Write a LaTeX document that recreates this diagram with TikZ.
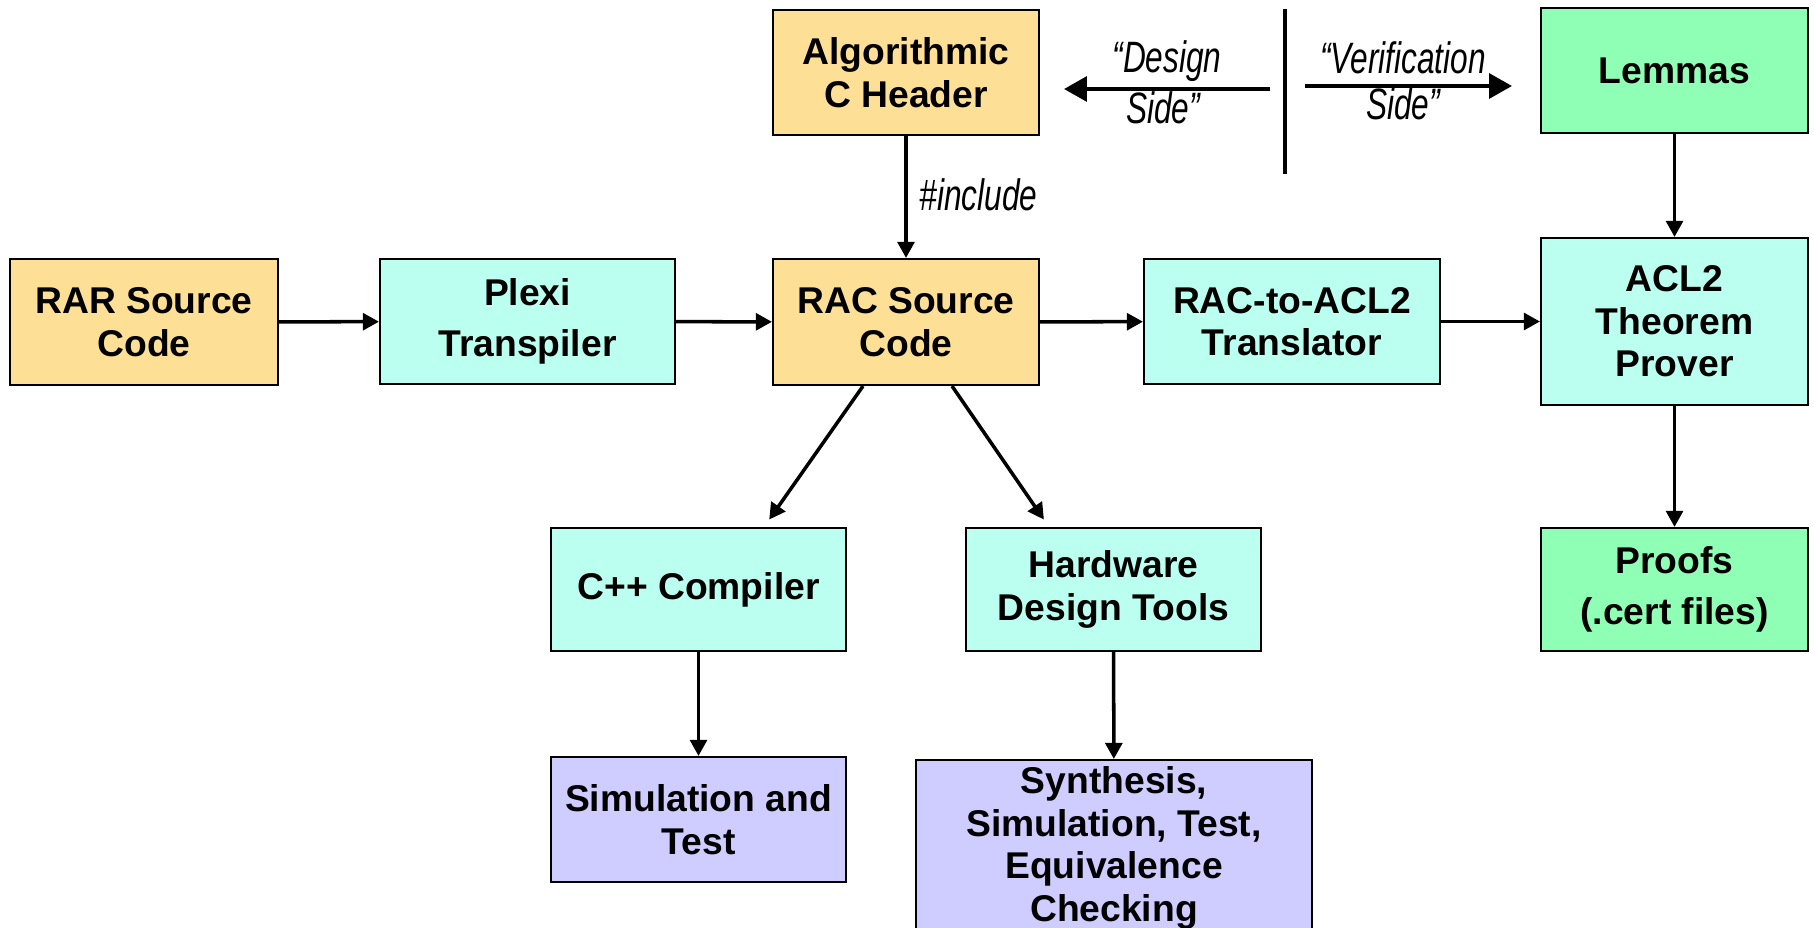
\documentclass[tikz,border=0pt]{standalone}
\usepackage{fontspec}
\setmainfont{Liberation Sans}
\newfontfamily\sidefont[FakeStretch=0.72]{Liberation Sans}
\usetikzlibrary{arrows.meta}

\definecolor{srcorange}{RGB}{253,223,150}
\definecolor{toolcyan}{RGB}{186,255,240}
\definecolor{proofgreen}{RGB}{144,255,182}
\definecolor{testpurple}{RGB}{207,205,255}

\tikzset{
    block/.style={draw, line width=0.6pt, align=center, inner sep=0pt,
        font=\fontsize{10.6}{12.1}\selectfont\bfseries},
    flow/.style={line width=1pt, -{Triangle[length=4.6pt,width=4.8pt]}},
    sideflow/.style={line width=1.15pt, -{Triangle[length=6.5pt,width=7pt]}},
    side/.style={inner sep=0pt, font=\sidefont\itshape\fontsize{12.5}{14}\selectfont}
}

\begin{document}
\begin{tikzpicture}
        \useasboundingbox (0,0) rectangle (18.14,-9.27);

        \node (rar) [block, fill=srcorange, minimum width=2.68cm, minimum height=1.26cm] at (1.44,-3.22) {RAR Source\\Code};
        \node (plexi) [block, fill=toolcyan, minimum width=2.95cm, minimum height=1.25cm] at (5.275,-3.215) {Plexi\\[0.08cm]Transpiler};
        \node (rac) [block, fill=srcorange, minimum width=2.66cm, minimum height=1.26cm] at (9.06,-3.22) {RAC Source\\Code};
        \node (header) [block, fill=srcorange, minimum width=2.66cm, minimum height=1.25cm] at (9.06,-0.725) {Algorithmic\\C Header};
        \node (trans) [block, fill=toolcyan, minimum width=2.96cm, minimum height=1.25cm] at (12.92,-3.215) {RAC-to-ACL2\\Translator};
        \node (acl) [block, fill=toolcyan, minimum width=2.67cm, minimum height=1.67cm] at (16.745,-3.215) {ACL2\\Theorem\\Prover};
        \node (lemmas) [block, fill=proofgreen, minimum width=2.67cm, minimum height=1.25cm] at (16.745,-0.705) {Lemmas};
        \node (proofs) [block, fill=proofgreen, minimum width=2.67cm, minimum height=1.23cm] at (16.745,-5.895) {Proofs\\[0.08cm](.cert files)};
        \node (cpp) [block, fill=toolcyan, minimum width=2.95cm, minimum height=1.23cm] at (6.985,-5.895) {C++ Compiler};
        \node (hw) [block, fill=toolcyan, minimum width=2.95cm, minimum height=1.23cm] at (11.135,-5.895) {Hardware\\Design Tools};
        \node (simtest) [block, fill=testpurple, minimum width=2.95cm, minimum height=1.25cm] at (6.985,-8.195) {Simulation and\\Test};
        \node (synth) [block, fill=testpurple, minimum width=3.96cm, minimum height=1.80cm, anchor=north] at (11.14,-7.59) {Synthesis,\\Simulation, Test,\\Equivalence\\Checking\rule[-0.12cm]{0pt}{0.1pt}};

        \draw[flow] (rar) -- (plexi);
        \draw[flow] (plexi) -- (rac);
        \draw[flow] (rac) -- (trans);
        \draw[flow] (trans) -- (acl);
        \draw[flow] (header) -- node [side, right, xshift=0.12cm, yshift=0.02cm] {\#include} (rac);
        \draw[flow] (lemmas) -- (acl);
        \draw[flow] (acl) -- (proofs);
        \draw[flow, shorten >=0.09cm] ([xshift=-0.43cm]rac.south) -- ([xshift=0.655cm]cpp.north);
        \draw[flow, shorten >=0.09cm] ([xshift=0.46cm]rac.south) -- ([xshift=-0.645cm]hw.north);
        \draw[flow] (cpp) -- (simtest);
        \draw[flow] (hw) -- (synth);

        \coordinate (divtop) at (12.85,-0.09);
        \coordinate (divbot) at (12.85,-1.74);
        \draw[line width=1.4pt] (divtop) -- (divbot);

        \coordinate (dstart) at (12.70,-0.89);
        \coordinate (dend) at (10.64,-0.89);
        \draw[sideflow] (dstart) -- (dend);
        \node (dtop) [side] at (11.67,-0.61) {“Design};
        \node (dbot) [side] at (11.63,-1.08) {Side”};

        \coordinate (vstart) at (13.05,-0.86);
        \coordinate (vend) at (15.12,-0.86);
        \draw[sideflow] (vstart) -- (vend);
        \node (vtop) [side] at (14.03,-0.58) {“Verification};
        \node (vbot) [side] at (14.03,-1.04) {Side”};
\end{tikzpicture}
\end{document}
